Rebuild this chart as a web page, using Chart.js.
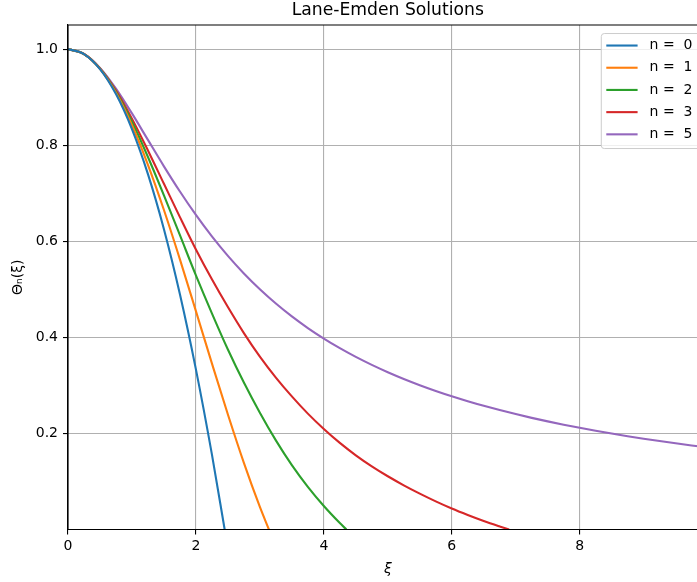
<!DOCTYPE html>
<html>
<head>
<meta charset="utf-8">
<script src="https://cdn.jsdelivr.net/npm/chart.js@4/dist/chart.umd.min.js"></script>
<style>
  html, body { margin: 0; padding: 0; width: 697px; height: 582px; overflow: hidden; background: #fff; }
  #wrap { width: 720px; height: 582px; }
</style>
</head>
<body>
<div id="wrap"><canvas id="c" width="720" height="582"></canvas></div>
<script>
// Dimensionless radius xi, sampled every 0.25
const xiGrid = [0, 0.25, 0.5, 0.75, 1, 1.25, 1.5, 1.75, 2, 2.25, 2.5, 2.75, 3, 3.25, 3.5, 3.75,
  4, 4.25, 4.5, 4.75, 5, 5.25, 5.5, 5.75, 6, 6.25, 6.5, 6.75, 7, 7.25, 7.5, 7.75,
  8, 8.25, 8.5, 8.75, 9, 9.25, 9.5, 9.75, 10];

// Polytropic indices shown
const nValues = [0, 1, 2, 3, 5];

// Theta_n(xi) on the grid above, up to the last grid point before the surface
const theta0 = [1, 0.98958, 0.95833, 0.90625, 0.83333, 0.73958, 0.625, 0.48958, 0.33333, 0.15625];
const theta1 = [1, 0.98962, 0.95885, 0.90885, 0.84147, 0.75919, 0.66500, 0.56228, 0.45465, 0.34581,
  0.23939, 0.13879, 0.04704];
const theta2 = [1, 0.98965, 0.95935, 0.91128, 0.84865, 0.77530, 0.69540, 0.61250, 0.52900, 0.45000,
  0.37470, 0.30580, 0.24300, 0.18550, 0.13400, 0.08880, 0.04890, 0.01340];
const theta3 = [1, 0.98968, 0.95984, 0.91354, 0.85506, 0.78897, 0.71950, 0.65020, 0.58285, 0.52070,
  0.46300, 0.40880, 0.35980, 0.31620, 0.27700, 0.24120, 0.20920, 0.18020, 0.15440, 0.13140,
  0.11080, 0.09200, 0.07470, 0.05860, 0.04370, 0.03030, 0.01780, 0.00640];
const theta5 = [1, 0.98975, 0.96077, 0.91766, 0.86603, 0.81089, 0.75593, 0.70346, 0.65465, 0.61000,
  0.56949, 0.53294, 0.5, 0.47032, 0.44353, 0.41932, 0.39736, 0.37740, 0.35921, 0.34258,
  0.32733, 0.31330, 0.30038, 0.28842, 0.27735, 0.26706, 0.25749, 0.24855, 0.24019, 0.23236,
  0.22502, 0.21811, 0.21160, 0.20547, 0.19967, 0.19418, 0.18898, 0.18405, 0.17937, 0.17491, 0.17066];

// First zero of each solution (the polytrope surface); n = 5 never reaches zero
const surfaceXi = [2.4495, 3.1416, 4.3529, 6.8968, null];

const xTicks = [0, 2, 4, 6, 8, 10];
const yTicks = [0.2, 0.4, 0.6, 0.8, 1.0];

const colors = ['#1f77b4', '#ff7f0e', '#2ca02c', '#d62728', '#9467bd'];
const FONT = "'DejaVu Sans', sans-serif";

function seriesPoints(values, surface) {
  const pts = values.map((y, i) => ({ x: xiGrid[i], y: y }));
  if (surface !== null) pts.push({ x: surface, y: 0 });
  return pts;
}

const allTheta = [theta0, theta1, theta2, theta3, theta5];

const datasets = nValues.map((n, k) => ({
  label: 'n = ' + String(n).padStart(2, ' '),
  data: seriesPoints(allTheta[k], surfaceXi[k]),
  borderColor: colors[k],
  backgroundColor: colors[k],
  borderWidth: 2.1,
  pointRadius: 0,
  showLine: true,
  fill: false,
  cubicInterpolationMode: 'monotone'
}));

// Axes frame on top of the curves plus an in-plot legend box
const frameAndLegend = {
  id: 'frameAndLegend',
  afterDatasetsDraw(chart) {
    const { ctx, chartArea: a } = chart;
    ctx.save();
    ctx.strokeStyle = '#000';
    ctx.lineWidth = 1.1;
    ctx.beginPath();
    ctx.moveTo(a.left, a.bottom);
    ctx.lineTo(a.left, a.top);
    ctx.lineTo(a.right, a.top);
    ctx.lineTo(a.right, a.bottom);
    ctx.closePath();
    ctx.stroke();

    const bw = 101.3, bh = 115;
    const bx = a.right - 106.3, by = a.top + 8.5;
    const r = 3;
    ctx.beginPath();
    ctx.moveTo(bx + r, by);
    ctx.lineTo(bx + bw - r, by);
    ctx.arcTo(bx + bw, by, bx + bw, by + r, r);
    ctx.lineTo(bx + bw, by + bh - r);
    ctx.arcTo(bx + bw, by + bh, bx + bw - r, by + bh, r);
    ctx.lineTo(bx + r, by + bh);
    ctx.arcTo(bx, by + bh, bx, by + bh - r, r);
    ctx.lineTo(bx, by + r);
    ctx.arcTo(bx, by, bx + r, by, r);
    ctx.closePath();
    ctx.fillStyle = 'rgba(255,255,255,0.8)';
    ctx.fill();
    ctx.strokeStyle = '#cccccc';
    ctx.lineWidth = 1;
    ctx.stroke();

    ctx.font = '14px ' + FONT;
    ctx.textBaseline = 'middle';
    ctx.textAlign = 'left';
    chart.data.datasets.forEach((ds, i) => {
      const yy = by + 12 + i * 22.2;
      ctx.strokeStyle = ds.borderColor;
      ctx.lineWidth = 2.1;
      ctx.beginPath();
      ctx.moveTo(bx + 5, yy);
      ctx.lineTo(bx + 36.3, yy);
      ctx.stroke();
      ctx.fillStyle = '#000';
      ctx.fillText(ds.label, bx + 48.3, yy);
    });
    ctx.restore();
  }
};

new Chart(document.getElementById('c'), {
  type: 'scatter',
  data: { datasets },
  plugins: [frameAndLegend],
  options: {
    responsive: false,
    animation: false,
    layout: { padding: { left: 0, right: 12, top: 0, bottom: 0 } },
    plugins: {
      legend: { display: false },
      tooltip: { enabled: false },
      title: {
        display: true,
        text: 'Lane-Emden Solutions',
        fullSize: false,
        color: '#000',
        font: { family: FONT, size: 17.2, weight: 'normal' },
        padding: { top: 0.5, bottom: 3.9 }
      }
    },
    scales: {
      x: {
        type: 'linear',
        min: 0,
        max: 10,
        afterBuildTicks: (axis) => { axis.ticks = xTicks.map(v => ({ value: v })); },
        afterFit: (scale) => { scale.height = 52.5; },
        ticks: {
          color: '#000',
          font: { family: FONT, size: 14 },
          padding: 3.5,
          maxRotation: 0,
          callback: (v) => String(v)
        },
        grid: { color: '#b0b0b0', lineWidth: 1.1, tickColor: '#000', tickLength: 5, drawTicks: true },
        border: { display: true, color: '#000', width: 1.1 },
        title: {
          display: true,
          text: 'ξ',
          color: '#000',
          font: { family: FONT, size: 14, style: 'italic' },
          padding: { top: 0, bottom: 4 }
        }
      },
      y: {
        type: 'linear',
        min: 0,
        max: 1.05,
        afterBuildTicks: (axis) => { axis.ticks = yTicks.map(v => ({ value: v })); },
        afterFit: (scale) => { scale.width = 68; },
        ticks: {
          color: '#000',
          font: { family: FONT, size: 14 },
          padding: 5,
          callback: (v) => Number(v).toFixed(1)
        },
        grid: { color: '#b0b0b0', lineWidth: 1.1, tickColor: '#000', tickLength: 5, drawTicks: true },
        border: { display: true, color: '#000', width: 1.1 },
        title: {
          display: true,
          text: 'Θₙ(ξ)',
          color: '#000',
          font: { family: FONT, size: 14 },
          padding: { top: 10.2, bottom: 0 }
        }
      }
    }
  }
});
</script>
</body>
</html>
